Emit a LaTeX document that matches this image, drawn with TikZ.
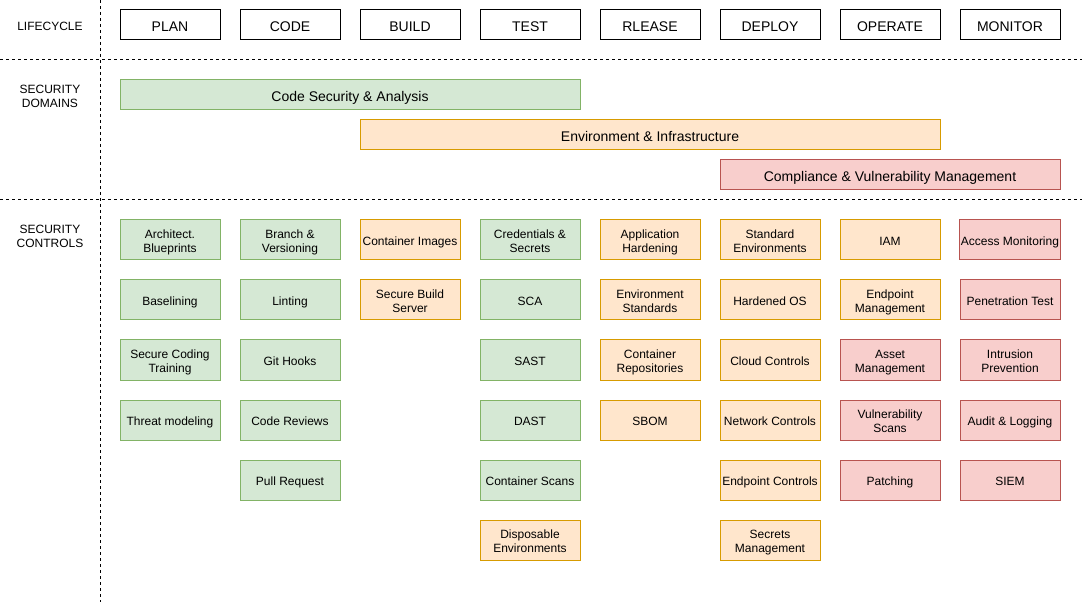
\documentclass[tikz,border=0pt]{standalone}
\usepackage{fontspec}
\setmainfont{Liberation Sans}
\definecolor{gfill}{HTML}{D5E8D4}\definecolor{gdraw}{HTML}{82B366}
\definecolor{ofill}{HTML}{FFE6CC}\definecolor{odraw}{HTML}{D79B00}
\definecolor{rfill}{HTML}{F8CECC}\definecolor{rdraw}{HTML}{B85450}
\newcommand{\topstrut}{\rule{0pt}{\dimexpr0.966em+1.5pt\relax}}
\newcommand{\botstrut}{\rule[-0.25em]{0pt}{0pt}}
\newcommand{\twoline}[2]{\vbox{\baselineskip=1.1667em\lineskiplimit=-20pt
  \hbox to 0pt{\hss\topstrut#1\hss}\hbox to 0pt{\hss#2\botstrut\hss}}}
\begin{document}
\begin{tikzpicture}[x=0.75pt,y=-0.75pt,
  struts/.style={execute at begin node=\topstrut,execute at end node=\botstrut},
  base/.style={rectangle,struts,minimum width=75pt,minimum height=30pt,inner sep=1pt,line width=0.75pt,font=\fontsize{9}{10.5}\selectfont},
  life/.style={base,draw=black,fill=white,minimum height=22.5pt,font=\fontsize{10.5}{12}\selectfont},
  gbox/.style={base,draw=gdraw,fill=gfill},
  obox/.style={base,draw=odraw,fill=ofill},
  rbox/.style={base,draw=rdraw,fill=rfill},
  bar/.style={base,minimum height=22.5pt,font=\fontsize{10.5}{12}\selectfont},
  side/.style={struts,inner sep=0pt,font=\fontsize{9}{10.5}\selectfont},
  sep/.style={line width=0.75pt,dash pattern=on 2.25pt off 2.25pt}]
\useasboundingbox (0,0) rectangle (1082,602);
% separators
\coordinate (vt) at (100,0); \coordinate (vb) at (100,602);
\coordinate (h1l) at (0,60); \coordinate (h1r) at (1082,60);
\coordinate (h2l) at (0,200); \coordinate (h2r) at (1082,200);
\draw[sep] (vt) -- (vb);
\draw[sep] (h1l) -- (h1r);
\draw[sep] (h2l) -- (h2r);
% side labels
\node[side] (lLife) at (50,25) {LIFECYCLE};
\node[side] (lDom) at (50,95) {\twoline{SECURITY}{DOMAINS}};
\node[side] (lCtl) at (50,235) {\twoline{SECURITY}{CONTROLS}};
% lifecycle
\node[life] (plan) at (170,25) {PLAN};
\node[life] (code) at (290,25) {CODE};
\node[life] (build) at (410,25) {BUILD};
\node[life] (test) at (530,25) {TEST};
\node[life] (release) at (650,25) {RLEASE};
\node[life] (deploy) at (770,25) {DEPLOY};
\node[life] (operate) at (890,25) {OPERATE};
\node[life] (monitor) at (1010,25) {MONITOR};
% domains
\node[bar,draw=gdraw,fill=gfill,minimum width=345pt] (dcode) at (350,95) {Code Security \& Analysis};
\node[bar,draw=odraw,fill=ofill,minimum width=435pt] (denv) at (650,135) {Environment \& Infrastructure};
\node[bar,draw=rdraw,fill=rfill,minimum width=255pt] (dcomp) at (890,175) {Compliance \& Vulnerability Management};
% PLAN
\node[gbox] (p1) at (170,240) {\twoline{Architect.}{Blueprints}};
\node[gbox] (p2) at (170,300) {Baselining};
\node[gbox] (p3) at (170,360) {\twoline{Secure Coding}{Training}};
\node[gbox] (p4) at (170,420) {Threat modeling};
% CODE
\node[gbox] (c1) at (290,240) {\twoline{Branch \&}{Versioning}};
\node[gbox] (c2) at (290,300) {Linting};
\node[gbox] (c3) at (290,360) {Git Hooks};
\node[gbox] (c4) at (290,420) {Code Reviews};
\node[gbox] (c5) at (290,480) {Pull Request};
% BUILD
\node[obox] (b1) at (410,240) {Container Images};
\node[obox] (b2) at (410,300) {\twoline{Secure Build}{Server}};
% TEST
\node[gbox] (t1) at (530,240) {\twoline{Credentials \&}{Secrets}};
\node[gbox] (t2) at (530,300) {SCA};
\node[gbox] (t3) at (530,360) {SAST};
\node[gbox] (t4) at (530,420) {DAST};
\node[gbox] (t5) at (530,480) {Container Scans};
\node[obox] (t6) at (530,540) {\twoline{Disposable}{Environments}};
% RELEASE
\node[obox] (r1) at (650,240) {\twoline{Application}{Hardening}};
\node[obox] (r2) at (650,300) {\twoline{Environment}{Standards}};
\node[obox] (r3) at (650,360) {\twoline{Container}{Repositories}};
\node[obox] (r4) at (650,420) {SBOM};
% DEPLOY
\node[obox] (d1) at (770,240) {\twoline{Standard}{Environments}};
\node[obox] (d2) at (770,300) {Hardened OS};
\node[obox] (d3) at (770,360) {Cloud Controls};
\node[obox] (d4) at (770,420) {Network Controls};
\node[obox] (d5) at (770,480) {Endpoint Controls};
\node[obox] (d6) at (770,540) {\twoline{Secrets}{Management}};
% OPERATE
\node[obox] (o1) at (890,240) {IAM};
\node[obox] (o2) at (890,300) {\twoline{Endpoint}{Management}};
\node[rbox] (o3) at (890,360) {\twoline{Asset}{Management}};
\node[rbox] (o4) at (890,420) {\twoline{Vulnerability}{Scans}};
\node[rbox] (o5) at (890,480) {Patching};
% MONITOR
\node[rbox] (m1) at (1010,240) {Access Monitoring};
\node[rbox] (m2) at (1010,300) {Penetration Test};
\node[rbox] (m3) at (1010,360) {\twoline{Intrusion}{Prevention}};
\node[rbox] (m4) at (1010,420) {Audit \& Logging};
\node[rbox] (m5) at (1010,480) {SIEM};
\end{tikzpicture}
\end{document}
